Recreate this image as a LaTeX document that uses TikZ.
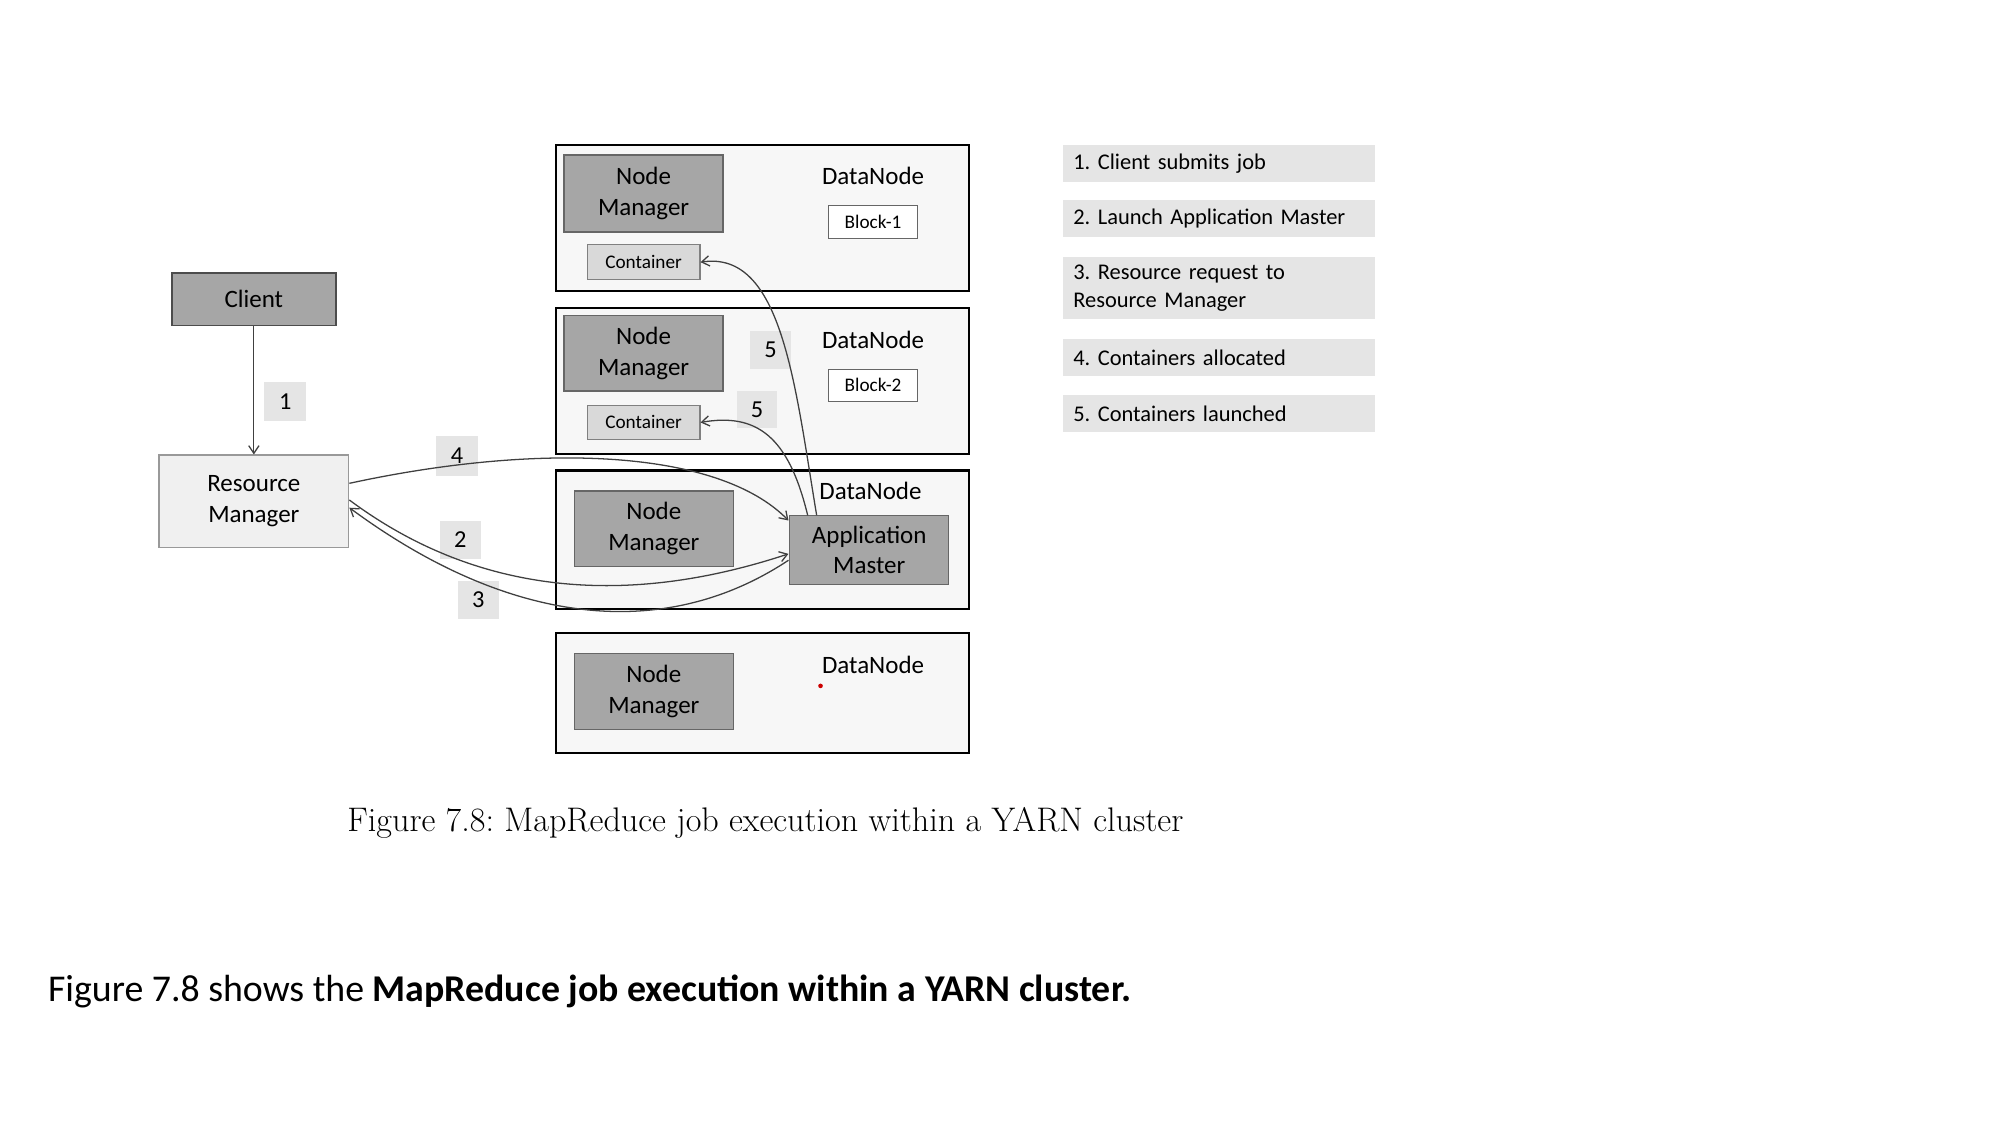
\documentclass[tikz,border=0pt]{standalone}
\usepackage{fontspec}
\setmainfont{Carlito}
\newfontfamily\capfont{Latin Modern Roman}
\usetikzlibrary{arrows.meta}
\frenchspacing
\begin{document}
\begin{tikzpicture}[x=1pt,y=-1pt,
  dn/.style={draw=black,line width=1.6pt,fill=black!3},
  nm/.style={draw=black!60,line width=1pt,fill=black!35,align=center,font=\fontsize{19.5}{24}\selectfont},
  ct/.style={draw=black!50,line width=0.8pt,fill=black!15,font=\fontsize{15}{16}\selectfont},
  blk/.style={draw=black!60,line width=0.8pt,fill=white,font=\fontsize{15}{16}\selectfont},
  lab/.style={fill=black!10,font=\fontsize{19}{20}\selectfont},
  leg/.style={fill=black!10,anchor=north west,font=\fontsize{17.5}{22}\selectfont\frenchspacing,align=left,inner xsep=8pt,inner ysep=0pt,text width=227pt},
  txt/.style={font=\fontsize{19.5}{20}\selectfont},
  arr/.style={draw=black!75,line width=1pt,-{Straight Barb[length=6pt,width=8pt]}}]
\useasboundingbox (0,0) rectangle (1560,877.5);
% client and RM
\node[draw=black!70,line width=1.2pt,fill=black!35,minimum width=128pt,minimum height=41pt,font=\fontsize{19.5}{22}\selectfont] (client) at (198,233.5) {Client};
\node[draw=black!40,line width=1pt,fill=black!6,minimum width=148pt,minimum height=72pt,align=center,font=\fontsize{19.5}{24}\selectfont] (rm) at (198,391) {Resource\\Manager};
\draw[arr] (client.south) -- (rm.north);
\node[lab,minimum width=33pt,minimum height=30pt] (l1) at (222.5,313) {1};
% datanode boxes
\node[dn,minimum width=322pt,minimum height=114pt] (d1) at (595,170) {};
\node[dn,minimum width=322pt,minimum height=114pt] (d2) at (595,297) {};
\node[dn,minimum width=322pt,minimum height=108pt] (d3) at (595,421) {};
\node[dn,minimum width=322pt,minimum height=93pt] (d4) at (595,540.5) {};
% box 1
\node[nm,minimum width=124pt,minimum height=60pt] (nm1) at (502,151) {Node\\Manager};
\node[ct,minimum width=88pt,minimum height=27pt] (c1) at (502,204.5) {Container};
\node[txt] (t1) at (681,137) {DataNode};
\node[blk,minimum width=70pt,minimum height=26pt] (b1) at (681,173) {Block-1};
% box 2
\node[nm,minimum width=124pt,minimum height=59pt] (nm2) at (502,275.5) {Node\\Manager};
\node[ct,minimum width=88pt,minimum height=27pt] (c2) at (502,329.5) {Container};
\node[txt] (t2) at (681,265) {DataNode};
\node[blk,minimum width=70pt,minimum height=25pt] (b2) at (681,300.5) {Block-2};
\node[lab,minimum width=32pt,minimum height=30pt] (l5a) at (601,273) {5};
\node[lab,minimum width=31pt,minimum height=29pt] (l5b) at (590.5,319.5) {5};
% box 3
\node[nm,minimum width=124pt,minimum height=59pt] (nm3) at (510,412.5) {Node\\Manager};
\node[nm,minimum width=124pt,minimum height=54pt] (am) at (678,429) {Application\\Master};
\node[txt] (t3) at (679,383) {DataNode};
% box 4
\node[nm,minimum width=124pt,minimum height=59pt] (nm4) at (510,539.5) {Node\\Manager};
\node[txt] (t4) at (681,519) {DataNode};
\fill[red!80!black] (640,535) circle (1.8pt);
% labels
\node[lab,minimum width=33pt,minimum height=31pt] (l4) at (356.5,355.5) {4};
\node[lab,minimum width=32pt,minimum height=30pt] (l2) at (359,421) {2};
\node[lab,minimum width=32pt,minimum height=30pt] (l3) at (373,468) {3};
% arrows
\coordinate (a4) at (615,406);
\coordinate (a2) at (615,432);
\coordinate (a3) at (615,437);
\draw[arr] (rm.east |- 0,377) .. controls (420,345) and (560,350) .. (a4);
\draw[arr] (rm.east |- 0,390) .. controls (380,470) and (500,470) .. (a2);
\draw[arr] (a3) .. controls (520,500) and (400,490) .. (rm.east |- 0,396);
\draw[arr] (637,402) .. controls (620,300) and (610,195) .. (c1.east);
\draw[arr] (630,402) .. controls (615,340) and (590,322) .. (c2.east);
% legend
\node[leg,minimum height=29pt] (g1) at (829,113) {1. Client submits job};
\node[leg,minimum height=29pt] (g2) at (829,156) {2. Launch Application Master};
\node[leg,minimum height=49pt] (g3) at (829,200) {3. Resource request to\\Resource Manager};
\node[leg,minimum height=29pt] (g4) at (829,264) {4. Containers allocated};
\node[leg,minimum height=29pt] (g5) at (829,308) {5. Containers launched};
% captions
\node[font=\capfont\fontsize{26.6}{30}\selectfont] (cap) at (597,642) {Figure 7.8: MapReduce job execution within a YARN cluster};
\node[anchor=west,font=\fontsize{29.5}{32}\selectfont] (bt) at (34,773) {Figure 7.8 shows the \textbf{MapReduce job execution within a YARN cluster.}};
\end{tikzpicture}
\end{document}
